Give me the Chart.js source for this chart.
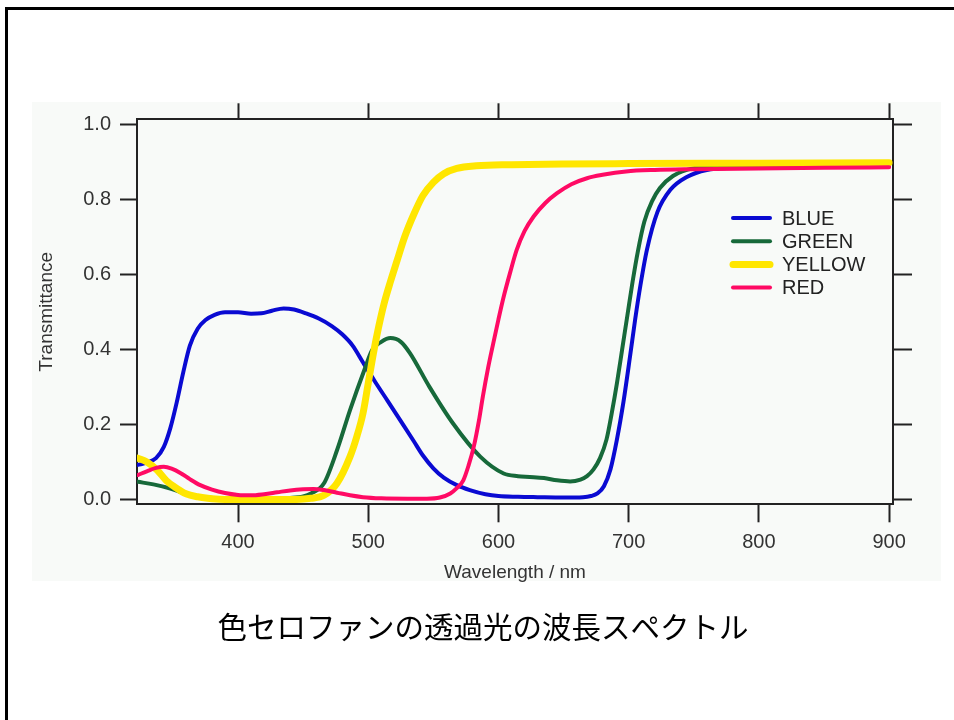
<!DOCTYPE html>
<html>
<head>
<meta charset="utf-8">
<script src="https://cdn.jsdelivr.net/npm/chart.js@4"></script>
<style>
  html, body { margin: 0; padding: 0; background: #fff; }
  canvas { display: block; }
</style>
</head>
<body>
<canvas id="spectrumChart" width="954" height="720"></canvas>
<script>
// wavelength (nm) / transmittance
const blueNm = [323, 330, 337, 343, 348, 353, 358, 363, 369, 375, 382, 390, 400, 410, 418, 426, 435, 443, 452, 462, 472, 480, 488, 496, 505, 515, 527, 535, 542, 550, 558, 568, 578, 590, 600, 615, 630, 650, 665, 671, 676, 681, 686, 691, 696, 701, 705, 709, 714, 722, 732, 745, 760, 780, 820, 860, 900];
const blueT = [0.092, 0.098, 0.11, 0.14, 0.19, 0.26, 0.34, 0.41, 0.455, 0.478, 0.492, 0.499, 0.499, 0.495, 0.496, 0.503, 0.509, 0.506, 0.496, 0.482, 0.462, 0.44, 0.41, 0.365, 0.315, 0.262, 0.198, 0.155, 0.117, 0.083, 0.058, 0.038, 0.025, 0.014, 0.009, 0.007, 0.006, 0.005, 0.006, 0.009, 0.016, 0.035, 0.08, 0.16, 0.26, 0.38, 0.48, 0.57, 0.665, 0.765, 0.825, 0.86, 0.878, 0.884, 0.887, 0.888, 0.89];

const greenNm = [323, 335, 348, 360, 370, 385, 400, 420, 440, 450, 456, 466, 476, 486, 497, 503, 510, 517, 525, 532, 547, 565, 586, 604, 615, 624, 635, 645, 655, 663, 668, 673, 678, 683, 687, 691, 695, 699, 703, 707, 712, 718, 724, 734, 750, 770, 800, 850, 900];
const greenT = [0.047, 0.04, 0.029, 0.015, 0.007, 0.003, 0.002, 0.002, 0.004, 0.008, 0.016, 0.043, 0.131, 0.238, 0.345, 0.398, 0.42, 0.43, 0.42, 0.39, 0.30, 0.203, 0.114, 0.069, 0.062, 0.06, 0.057, 0.051, 0.048, 0.053, 0.062, 0.08, 0.11, 0.16, 0.23, 0.31, 0.40, 0.49, 0.58, 0.66, 0.74, 0.795, 0.83, 0.862, 0.883, 0.888, 0.89, 0.892, 0.893];

const yellowNm = [323, 330, 338, 345, 351, 360, 369, 380, 390, 420, 445, 456, 466, 476, 486, 491, 496, 500, 504, 508, 512, 517, 522, 528, 535, 542, 550, 558, 568, 583, 610, 650, 700, 800, 900];
const yellowT = [0.11, 0.10, 0.078, 0.05, 0.034, 0.015, 0.007, 0.002, 0.0, 0.0, 0.0, 0.003, 0.011, 0.043, 0.114, 0.165, 0.23, 0.31, 0.39, 0.46, 0.52, 0.58, 0.635, 0.70, 0.76, 0.81, 0.845, 0.868, 0.882, 0.889, 0.892, 0.894, 0.895, 0.896, 0.897];

const redNm = [323, 330, 337, 343, 349, 356, 363, 371, 380, 390, 400, 410, 420, 430, 440, 450, 458, 466, 476, 486, 496, 510, 530, 545, 555, 563, 568, 573, 577, 581, 585, 588, 592, 596, 600, 604, 609, 614, 620, 627, 636, 645, 656, 668, 680, 698, 720, 750, 800, 850, 900];
const redT = [0.065, 0.075, 0.084, 0.087, 0.082, 0.07, 0.054, 0.038, 0.026, 0.017, 0.012, 0.011, 0.014, 0.019, 0.024, 0.027, 0.028, 0.025, 0.018, 0.011, 0.006, 0.003, 0.002, 0.002, 0.005, 0.016, 0.03, 0.051, 0.09, 0.14, 0.21, 0.274, 0.35, 0.416, 0.48, 0.54, 0.605, 0.665, 0.715, 0.754, 0.79, 0.816, 0.84, 0.856, 0.865, 0.874, 0.878, 0.88, 0.882, 0.884, 0.885];

const seriesNames = ['BLUE', 'GREEN', 'YELLOW', 'RED'];
const xTicks = [400, 500, 600, 700, 800, 900];
const yTicks = [0.0, 0.2, 0.4, 0.6, 0.8, 1.0];
const captionText = '色セロファンの透過光の波長スペクトル';

const toPoints = (xs, ys) => xs.map((x, i) => ({ x: x, y: ys[i] }));

const axisColor = '#222';
const labelFont = { family: "'Liberation Sans', Arial, sans-serif", size: 20 };
const titleFont = { family: "'Liberation Sans', Arial, sans-serif", size: 19 };

// page background, frame, legend and caption are drawn by hand
const pagePlugin = {
  id: 'page',
  beforeDraw(chart) {
    const c = chart.ctx;
    c.save();
    c.fillStyle = '#fff';
    c.fillRect(0, 0, chart.width, chart.height);
    c.fillStyle = '#f8faf8';
    c.fillRect(32, 102, 909, 479);
    c.fillStyle = '#000';
    c.fillRect(5, 7, 3, 713);
    c.fillRect(5, 7, 949, 3);
    c.restore();
  },
  afterDatasetsDraw(chart) {
    const c = chart.ctx;
    c.save();
    c.font = "20px 'Liberation Sans', Arial, sans-serif";
    c.textBaseline = 'middle';
    c.lineCap = 'round';
    chart.data.datasets.forEach((ds, i) => {
      const y = 218 + i * 23.2;
      c.strokeStyle = ds.borderColor;
      c.lineWidth = ds.borderWidth;
      c.beginPath();
      c.moveTo(733, y);
      c.lineTo(770, y);
      c.stroke();
      c.fillStyle = '#222';
      c.fillText(ds.label, 782, y + 1);
    });
    c.restore();
  },
  afterDraw(chart) {
    const c = chart.ctx;
    c.save();
    c.font = "29.5px 'Noto Sans CJK JP', sans-serif";
    c.fillStyle = '#000';
    c.textAlign = 'center';
    c.textBaseline = 'middle';
    c.fillText(captionText, 483, 627);
    c.restore();
  }
};

const setTicks = s => { s.ticks = (s.axis === 'x' ? xTicks : yTicks).map(v => ({ value: v })); };

new Chart(document.getElementById('spectrumChart').getContext('2d'), {
  type: 'line',
  data: {
    datasets: [
      { label: seriesNames[0], data: toPoints(blueNm, blueT), borderColor: '#0a0ad2', borderWidth: 4, order: 4 },
      { label: seriesNames[1], data: toPoints(greenNm, greenT), borderColor: '#17693a', borderWidth: 4, order: 3 },
      { label: seriesNames[2], data: toPoints(yellowNm, yellowT), borderColor: '#ffe600', borderWidth: 7, order: 2 },
      { label: seriesNames[3], data: toPoints(redNm, redT), borderColor: '#ff0a64', borderWidth: 4, order: 1 },
    ],
  },
  options: {
    responsive: false,
    devicePixelRatio: 1,
    animation: false,
    elements: {
      point: { radius: 0 },
      line: { cubicInterpolationMode: 'monotone', borderCapStyle: 'round', borderJoinStyle: 'round' },
    },
    layout: { padding: { left: 0, right: 0, top: 0, bottom: 110 } },
    scales: {
      x: {
        type: 'linear', position: 'bottom', min: 322.4, max: 903,
        afterBuildTicks: setTicks,
        afterFit: s => { s.height = 105.7; },
        border: { display: true, color: axisColor, width: 2 },
        grid: { drawOnChartArea: false, drawTicks: true, tickLength: 18, tickColor: axisColor, tickWidth: 2 },
        ticks: { font: labelFont, color: '#333', padding: 8, maxRotation: 0, callback: v => String(v) },
        title: { display: true, text: 'Wavelength / nm', font: titleFont, color: '#333', padding: { top: 0, bottom: 26 } },
      },
      x2: {
        type: 'linear', position: 'top', min: 322.4, max: 903,
        afterBuildTicks: setTicks,
        afterFit: s => { s.height = 119.3; },
        border: { display: true, color: axisColor, width: 2 },
        grid: { drawOnChartArea: false, drawTicks: true, tickLength: 16, tickColor: axisColor, tickWidth: 2 },
        ticks: { display: false },
      },
      y: {
        type: 'linear', position: 'left', min: -0.013, max: 1.013,
        afterBuildTicks: setTicks,
        afterFit: s => { s.width = 137; },
        border: { display: true, color: axisColor, width: 2 },
        grid: { drawOnChartArea: false, drawTicks: true, tickLength: 17, tickColor: axisColor, tickWidth: 2 },
        ticks: { font: labelFont, color: '#333', padding: 9, callback: v => v.toFixed(1) },
        title: { display: true, text: 'Transmittance', font: titleFont, color: '#333', padding: { top: 35, bottom: 0 } },
      },
      y2: {
        type: 'linear', position: 'right', min: -0.013, max: 1.013,
        afterBuildTicks: setTicks,
        afterFit: s => { s.width = 61; },
        border: { display: true, color: axisColor, width: 2 },
        grid: { drawOnChartArea: false, drawTicks: true, tickLength: 19, tickColor: axisColor, tickWidth: 2 },
        ticks: { display: false },
      },
    },
    plugins: {
      legend: { display: false },
      tooltip: { enabled: false },
      title: { display: false },
    },
  },
  plugins: [pagePlugin],
});
</script>
</body>
</html>
